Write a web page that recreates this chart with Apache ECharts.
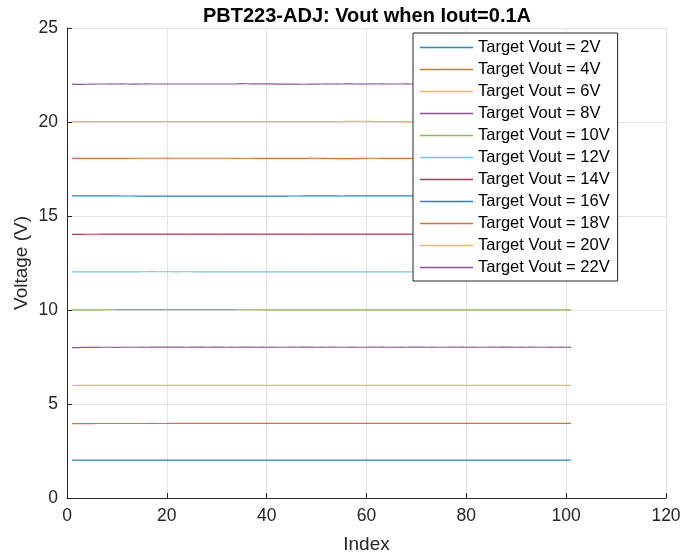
<!DOCTYPE html>
<html>
<head>
<meta charset="utf-8">
<script src="https://cdn.jsdelivr.net/npm/echarts@6/dist/echarts.min.js"></script>
<style>
  html, body { margin: 0; padding: 0; background: #fff; }
  #chart { width: 681px; height: 556px; }
</style>
</head>
<body>
<div id="chart"></div>
<script>
// 目标电压 (V)
var targets = [2, 4, 6, 8, 10, 12, 14, 16, 18, 20, 22];

var v2 = [2.012,2.013,2.014,2.013,2.015,2.014,2.016,2.015,2.014,2.015,2.016,2.015,2.017,2.016,2.015,2.016,2.015,2.017,2.016,2.015,
2.016,2.015,2.014,2.016,2.015,2.016,2.017,2.015,2.016,2.015,2.016,2.015,2.014,2.016,2.017,2.016,2.015,2.016,2.015,2.016,
2.015,2.016,2.017,2.018,2.016,2.015,2.016,2.015,2.016,2.017,2.016,2.015,2.016,2.015,2.014,2.016,2.015,2.016,2.017,2.016,
2.015,2.016,2.015,2.016,2.015,2.014,2.016,2.015,2.016,2.015,2.016,2.017,2.015,2.016,2.015,2.016,2.015,2.014,2.016,2.015,
2.016,2.015,2.016,2.017,2.016,2.015,2.016,2.015,2.014,2.016,2.015,2.016,2.015,2.016,2.015,2.014,2.015,2.016,2.015,2.014,2.015];

var v4 = [3.958,3.960,3.961,3.962,3.961,3.963,3.962,3.964,3.963,3.962,3.963,3.964,3.962,3.963,3.964,3.963,3.965,3.964,3.963,3.964,
3.965,3.966,3.965,3.967,3.966,3.965,3.966,3.967,3.966,3.968,3.967,3.966,3.967,3.968,3.967,3.966,3.967,3.968,3.969,3.968,
3.967,3.968,3.967,3.969,3.968,3.967,3.968,3.969,3.968,3.967,3.968,3.969,3.968,3.967,3.968,3.967,3.968,3.969,3.968,3.967,
3.968,3.967,3.968,3.969,3.968,3.967,3.968,3.967,3.966,3.967,3.968,3.967,3.968,3.967,3.966,3.967,3.968,3.967,3.966,3.967,
3.968,3.967,3.966,3.967,3.968,3.967,3.966,3.967,3.968,3.967,3.968,3.967,3.966,3.967,3.968,3.967,3.966,3.967,3.968,3.967,3.968];

var v6 = [5.985,5.986,5.988,5.990,5.991,5.992,5.991,5.993,5.992,5.991,5.992,5.993,5.992,5.991,5.992,5.993,5.994,5.993,5.992,5.993,
5.992,5.991,5.992,5.993,5.992,5.991,5.990,5.991,5.992,5.993,5.992,5.993,5.994,5.993,5.994,5.995,5.994,5.993,5.994,5.995,
5.994,5.993,5.994,5.993,5.992,5.993,5.994,5.993,5.992,5.991,5.990,5.991,5.990,5.989,5.990,5.991,5.990,5.991,5.992,5.991,
5.990,5.991,5.990,5.989,5.990,5.991,5.992,5.991,5.990,5.989,5.988,5.989,5.990,5.989,5.988,5.989,5.990,5.991,5.990,5.989,
5.990,5.991,5.992,5.991,5.990,5.991,5.992,5.991,5.990,5.991,5.992,5.991,5.992,5.993,5.992,5.991,5.992,5.991,5.992,5.991,5.992];

var v8 = [7.995,7.998,8.008,8.016,8.018,8.017,8.018,8.019,8.018,8.017,8.018,8.019,8.018,8.019,8.020,8.019,8.020,8.021,8.022,8.021,
8.020,8.021,8.020,8.019,8.020,8.021,8.020,8.019,8.020,8.021,8.020,8.019,8.020,8.019,8.020,8.021,8.020,8.019,8.020,8.019,
8.020,8.019,8.018,8.019,8.020,8.019,8.020,8.021,8.020,8.019,8.020,8.019,8.020,8.019,8.018,8.019,8.020,8.019,8.018,8.019,
8.020,8.019,8.020,8.019,8.018,8.019,8.020,8.019,8.020,8.021,8.020,8.019,8.020,8.019,8.018,8.019,8.020,8.019,8.020,8.019,
8.020,8.019,8.018,8.019,8.020,8.019,8.020,8.021,8.020,8.019,8.020,8.019,8.020,8.019,8.018,8.019,8.020,8.019,8.020,8.019,8.020];

var v10 = [10.005,10.006,10.007,10.008,10.009,10.010,10.011,10.012,10.013,10.018,10.021,10.022,10.021,10.022,10.023,10.022,10.021,10.022,10.023,10.022,
10.021,10.022,10.021,10.020,10.021,10.022,10.021,10.020,10.019,10.018,10.017,10.016,10.015,10.014,10.013,10.012,10.013,10.012,10.011,10.012,
10.011,10.012,10.011,10.010,10.011,10.012,10.011,10.010,10.011,10.010,10.011,10.012,10.011,10.010,10.011,10.010,10.011,10.012,10.011,10.010,
10.011,10.010,10.011,10.010,10.009,10.010,10.011,10.010,10.011,10.010,10.009,10.010,10.011,10.010,10.009,10.010,10.011,10.010,10.011,10.010,
10.009,10.010,10.011,10.010,10.009,10.010,10.011,10.010,10.009,10.010,10.011,10.010,10.011,10.010,10.009,10.010,10.011,10.010,10.009,10.010,10.011];

var v12 = [12.030,12.031,12.030,12.031,12.032,12.031,12.032,12.033,12.032,12.031,12.032,12.031,12.032,12.033,12.034,12.035,12.036,12.035,12.034,12.035,
12.034,12.033,12.034,12.035,12.034,12.033,12.032,12.031,12.032,12.031,12.032,12.031,12.030,12.031,12.032,12.031,12.030,12.029,12.030,12.031,
12.030,12.029,12.030,12.031,12.030,12.029,12.030,12.029,12.030,12.031,12.030,12.029,12.030,12.029,12.028,12.029,12.030,12.029,12.028,12.029,
12.030,12.029,12.028,12.029,12.030,12.029,12.028,12.029,12.030,12.029,12.028,12.029,12.028,12.027,12.028,12.029,12.028,12.029,12.030,12.029,
12.028,12.029,12.030,12.029,12.028,12.029,12.028,12.029,12.030,12.029,12.028,12.029,12.030,12.029,12.028,12.029,12.030,12.029,12.030,12.029,12.030];

var v14 = [14.025,14.026,14.027,14.028,14.029,14.030,14.031,14.032,14.033,14.034,14.038,14.040,14.041,14.040,14.039,14.040,14.039,14.037,14.036,14.038,
14.042,14.041,14.038,14.036,14.035,14.034,14.035,14.034,14.033,14.034,14.033,14.034,14.033,14.032,14.033,14.032,14.033,14.032,14.031,14.032,
14.033,14.032,14.033,14.035,14.038,14.039,14.037,14.035,14.034,14.033,14.032,14.033,14.032,14.031,14.032,14.033,14.036,14.039,14.040,14.039,
14.040,14.039,14.037,14.035,14.034,14.033,14.034,14.033,14.032,14.033,14.032,14.033,14.034,14.033,14.032,14.033,14.032,14.033,14.034,14.033,
14.032,14.033,14.032,14.033,14.034,14.033,14.032,14.033,14.032,14.033,14.034,14.033,14.032,14.033,14.032,14.033,14.034,14.033,14.032,14.033,14.034];

var v16 = [16.075,16.074,16.073,16.072,16.071,16.070,16.069,16.068,16.067,16.066,16.065,16.064,16.063,16.062,16.063,16.062,16.061,16.062,16.061,16.062,
16.061,16.060,16.061,16.060,16.061,16.060,16.059,16.060,16.061,16.060,16.059,16.060,16.059,16.060,16.061,16.060,16.061,16.062,16.061,16.062,
16.063,16.062,16.061,16.062,16.063,16.064,16.066,16.072,16.074,16.072,16.068,16.066,16.067,16.066,16.065,16.066,16.067,16.066,16.068,16.071,
16.073,16.072,16.070,16.068,16.067,16.068,16.067,16.068,16.069,16.068,16.067,16.068,16.069,16.068,16.067,16.068,16.067,16.066,16.067,16.068,
16.067,16.066,16.067,16.068,16.067,16.066,16.067,16.066,16.067,16.068,16.067,16.066,16.067,16.066,16.067,16.068,16.067,16.066,16.067,16.066,16.067];

var v18 = [18.065,18.066,18.067,18.068,18.069,18.068,18.069,18.070,18.069,18.070,18.071,18.070,18.071,18.072,18.071,18.072,18.073,18.072,18.073,18.074,
18.073,18.072,18.073,18.072,18.073,18.072,18.071,18.072,18.073,18.072,18.071,18.072,18.071,18.070,18.071,18.072,18.071,18.070,18.071,18.070,
18.071,18.070,18.071,18.070,18.069,18.070,18.071,18.070,18.074,18.072,18.065,18.060,18.058,18.057,18.058,18.057,18.056,18.057,18.068,18.073,
18.072,18.071,18.070,18.071,18.070,18.071,18.070,18.071,18.070,18.071,18.070,18.069,18.070,18.071,18.070,18.069,18.070,18.071,18.070,18.069,
18.070,18.071,18.070,18.069,18.070,18.071,18.070,18.069,18.070,18.071,18.070,18.069,18.070,18.071,18.070,18.069,18.070,18.071,18.070,18.069,18.070];

var v20 = [20.018,20.020,20.022,20.024,20.023,20.025,20.024,20.023,20.024,20.023,20.022,20.023,20.022,20.021,20.022,20.021,20.022,20.021,20.020,20.021,
20.020,20.019,20.020,20.021,20.022,20.021,20.020,20.021,20.022,20.021,20.022,20.021,20.020,20.021,20.020,20.019,20.020,20.021,20.020,20.019,
20.018,20.017,20.018,20.019,20.020,20.021,20.022,20.023,20.024,20.023,20.022,20.023,20.024,20.025,20.026,20.028,20.030,20.029,20.031,20.030,
20.028,20.025,20.023,20.021,20.020,20.021,20.022,20.021,20.022,20.023,20.022,20.023,20.024,20.023,20.022,20.023,20.022,20.021,20.022,20.021,
20.022,20.023,20.022,20.021,20.022,20.021,20.020,20.021,20.022,20.021,20.020,20.021,20.022,20.021,20.020,20.021,20.022,20.021,20.020,20.021,20.022];

var v22 = [22.015,22.005,22.002,22.008,22.015,22.020,22.022,22.021,22.023,22.022,22.024,22.020,22.010,22.018,22.022,22.023,22.022,22.021,22.022,22.021,
22.022,22.021,22.020,22.021,22.022,22.021,22.020,22.021,22.022,22.021,22.020,22.021,22.022,22.028,22.040,22.035,22.028,22.027,22.026,22.025,
22.024,22.018,22.010,22.018,22.016,22.012,22.008,22.010,22.015,22.018,22.020,22.024,22.022,22.026,22.022,22.024,22.026,22.020,22.018,22.022,
22.023,22.021,22.026,22.022,22.020,22.022,22.021,22.023,22.022,22.021,22.022,22.021,22.022,22.023,22.022,22.021,22.022,22.021,22.022,22.023,
22.022,22.021,22.022,22.023,22.022,22.021,22.022,22.021,22.022,22.023,22.022,22.021,22.022,22.021,22.022,22.023,22.022,22.021,22.022,22.021,22.022];

var xTicks = [0, 20, 40, 60, 80, 100, 120];
var yTicks = [0, 5, 10, 15, 20, 25];

var allValues = [v2, v4, v6, v8, v10, v12, v14, v16, v18, v20, v22];
// MATLAB 默认配色
var colors = ['#0072BD', '#D95319', '#EDB120', '#7E2F8E', '#77AC30', '#4DBEEE',
              '#A2142F', '#0072BD', '#D95319', '#EDB120', '#7E2F8E'];

var myChart = echarts.init(document.getElementById('chart'));

var textColor = '#262626';
var fontFamily = 'Liberation Sans, Arial, sans-serif';

var series = targets.map(function (t, k) {
    var vals = allValues[k];
    var pts = [];
    for (var i = 0; i < vals.length; i++) {
        pts.push([i + 1, vals[i]]);
    }
    return {
        name: 'Target Vout = ' + t + 'V',
        type: 'line',
        data: pts,
        symbol: 'none',
        animation: false,
        lineStyle: { width: 1.2, color: colors[k], opacity: 0.85 },
        itemStyle: { color: colors[k] }
    };
});

// 图例：只画细线，不画圆点
var legendData = series.map(function (s, k) {
    return {
        name: s.name,
        icon: 'path://M0,0 H53 V1.3 H0 Z',
        itemStyle: { color: colors[k], opacity: 0.85, borderWidth: 0 }
    };
});

var option = {
    animation: false,
    title: {
        text: 'PBT223-ADJ: Vout when Iout=0.1A',
        left: 362,
        textAlign: 'center',
        top: 1,
        textStyle: {
            fontFamily: fontFamily,
            fontSize: 20,
            fontWeight: 'bold',
            color: '#000'
        }
    },
    grid: {
        left: 67,
        right: 15,
        top: 28,
        bottom: 58,
        outerBoundsMode: 'none',
        containLabel: false
    },
    legend: {
        orient: 'vertical',
        left: 413,
        top: 33,
        width: 204,
        padding: [6, 8, 5, 7],
        itemWidth: 53,
        itemHeight: 1.3,
        itemGap: 5,
        borderColor: textColor,
        borderWidth: 1,
        borderRadius: 0,
        backgroundColor: '#fff',
        textStyle: {
            fontFamily: fontFamily,
            fontSize: 16.5,
            color: '#000',
            padding: [0, 0, 0, 0]
        },
        data: legendData
    },
    xAxis: {
        type: 'value',
        min: 0,
        max: 120,
        interval: 20,
        name: 'Index',
        nameLocation: 'middle',
        nameGap: 37,
        nameMoveOverlap: false,
        nameTextStyle: { fontFamily: fontFamily, fontSize: 19, color: textColor },
        axisLine: { lineStyle: { color: textColor, width: 1 } },
        axisTick: { inside: true, length: 5, lineStyle: { color: textColor } },
        axisLabel: {
            fontFamily: fontFamily, fontSize: 17.5, color: textColor, margin: 9,
            formatter: function (v) { return xTicks.indexOf(v) >= 0 ? String(v) : ''; }
        },
        splitLine: { show: true, lineStyle: { color: '#e3e3e3', width: 1 } }
    },
    yAxis: {
        type: 'value',
        min: 0,
        max: 25,
        interval: 5,
        name: 'Voltage (V)',
        nameLocation: 'middle',
        nameGap: 36,
        nameMoveOverlap: false,
        nameTextStyle: { fontFamily: fontFamily, fontSize: 19, color: textColor },
        axisLine: { show: true, lineStyle: { color: textColor, width: 1 } },
        axisTick: { show: true, inside: true, length: 5, lineStyle: { color: textColor } },
        axisLabel: {
            fontFamily: fontFamily, fontSize: 17.5, color: textColor, margin: 9,
            formatter: function (v) { return yTicks.indexOf(v) >= 0 ? String(v) : ''; }
        },
        splitLine: { show: true, lineStyle: { color: '#e3e3e3', width: 1 } }
    },
    series: series
};

window.addEventListener('resize', function () {
    myChart.resize();
});
myChart.setOption(option);
</script>
</body>
</html>
